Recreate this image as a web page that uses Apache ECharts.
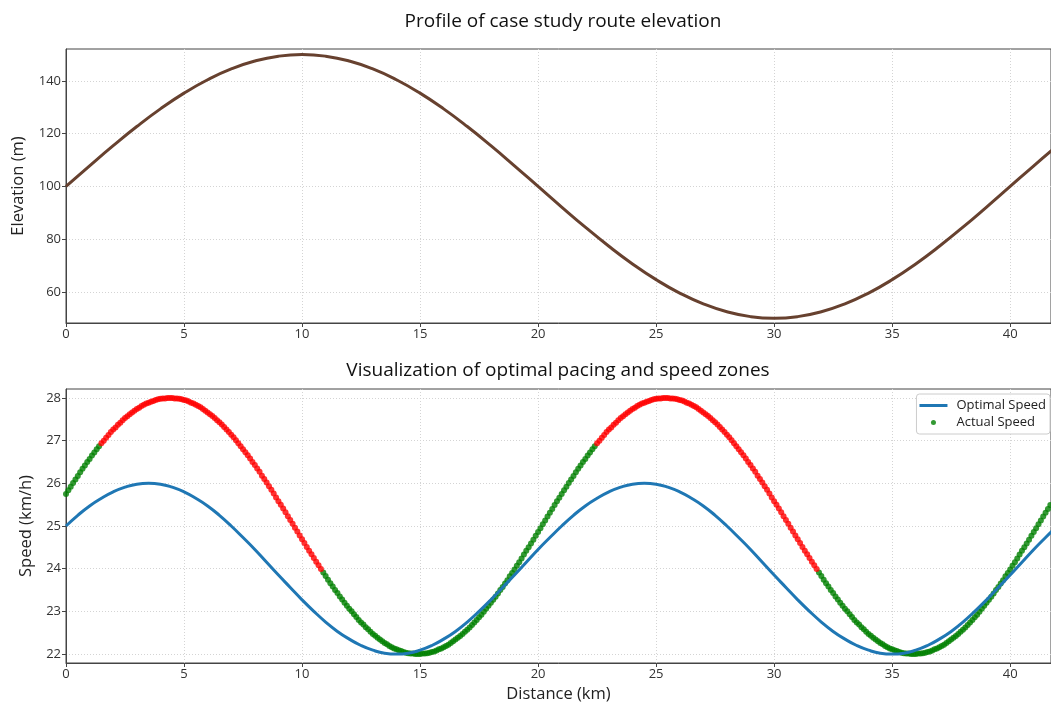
<!DOCTYPE html>
<html>
<head>
<meta charset="utf-8">
<title>Route elevation and pacing</title>
<script src="https://cdn.jsdelivr.net/npm/echarts@6/dist/echarts.min.js"></script>
<style>
  html, body { margin: 0; padding: 0; background: #fff; }
  #chart { width: 1051px; height: 704px; }
</style>
</head>
<body>
<div id="chart"></div>
<script>
// elevation profile, one reading per km
const elevationStepKm = 1
const elevationM = [100, 107.82, 115.45, 122.7, 129.39, 135.36, 140.45, 144.55, 147.55, 149.38,
  150, 149.38, 147.55, 144.55, 140.45, 135.36, 129.39, 122.7, 115.45, 107.82,
  100, 92.18, 84.55, 77.3, 70.61, 64.64, 59.55, 55.45, 52.45, 50.62,
  50, 50.62, 52.45, 55.45, 59.55, 64.64, 70.61, 77.3, 84.55, 92.18,
  100, 107.82, 115.45]

// optimal speed, one reading every 0.5 km
const optimalStepKm = 0.5
const optimalSpeed = [
  25.0, 25.25, 25.47, 25.65, 25.8, 25.91, 25.98, 26.0, 25.98, 25.91,
  25.8, 25.65, 25.47, 25.25, 25.0, 24.73, 24.45, 24.15, 23.85, 23.56,
  23.27, 23.0, 22.75, 22.53, 22.35, 22.2, 22.09, 22.02, 22.0, 22.02,
  22.09, 22.2, 22.35, 22.53, 22.75, 23.0, 23.27, 23.56, 23.85, 24.15,
  24.45, 24.73,
  25.0, 25.25, 25.47, 25.65, 25.8, 25.91, 25.98, 26.0, 25.98, 25.91,
  25.8, 25.65, 25.47, 25.25, 25.0, 24.73, 24.45, 24.15, 23.85, 23.56,
  23.27, 23.0, 22.75, 22.53, 22.35, 22.2, 22.09, 22.02, 22.0, 22.02,
  22.09, 22.2, 22.35, 22.53, 22.75, 23.0, 23.27, 23.56, 23.85, 24.15,
  24.45, 24.73,
  25.0]

// actual speed, one reading every 0.1 km starting at 0 km
const actualStepKm = 0.1
const actualSpeed = [
  25.75, 25.84, 25.92, 26.01, 26.09, 26.17, 26.26, 26.34, 26.42, 26.5,
  26.57, 26.65, 26.72, 26.8, 26.87, 26.94, 27.0, 27.07, 27.13, 27.2,
  27.26, 27.31, 27.37, 27.42, 27.48, 27.53, 27.57, 27.62, 27.66, 27.7,
  27.74, 27.77, 27.81, 27.84, 27.87, 27.89, 27.91, 27.93, 27.95, 27.97,
  27.98, 27.99, 27.99, 28.0, 28.0, 28.0, 27.99, 27.99, 27.98, 27.97,
  27.95, 27.94, 27.92, 27.89, 27.87, 27.84, 27.81, 27.78, 27.74, 27.7,
  27.66, 27.62, 27.58, 27.53, 27.48, 27.43, 27.38, 27.32, 27.26, 27.2,
  27.14, 27.08, 27.01, 26.94, 26.87, 26.8, 26.73, 26.66, 26.58, 26.5,
  26.43, 26.35, 26.27, 26.18, 26.1, 26.02, 25.93, 25.85, 25.76, 25.67,
  25.58, 25.5, 25.41, 25.32, 25.23, 25.14, 25.05, 24.96, 24.87, 24.78,
  24.69, 24.6, 24.51, 24.42, 24.34, 24.25, 24.16, 24.08, 23.99, 23.91,
  23.83, 23.74, 23.66, 23.58, 23.5, 23.43, 23.35, 23.28, 23.2, 23.13,
  23.06, 23.0, 22.93, 22.87, 22.8, 22.74, 22.69, 22.63, 22.58, 22.52,
  22.47, 22.43, 22.38, 22.34, 22.3, 22.26, 22.23, 22.19, 22.16, 22.13,
  22.11, 22.09, 22.07, 22.05, 22.03, 22.02, 22.01, 22.01, 22.0, 22.0,
  22.0, 22.01, 22.01, 22.02, 22.03, 22.05, 22.06, 22.08, 22.11, 22.13,
  22.16, 22.19, 22.22, 22.26, 22.3, 22.34, 22.38, 22.42, 22.47, 22.52,
  22.57, 22.62, 22.68, 22.74, 22.8, 22.86, 22.92, 22.99, 23.06, 23.13,
  23.2, 23.27, 23.34, 23.42, 23.5, 23.57, 23.65, 23.73, 23.82, 23.9,
  23.98, 24.07, 24.15, 24.24, 24.33, 24.42, 24.5, 24.59, 24.68, 24.77,
  24.86, 24.95, 25.04, 25.13, 25.22, 25.31, 25.4, 25.49, 25.58, 25.66,
  25.75, 25.84, 25.92, 26.01, 26.09, 26.17, 26.26, 26.34, 26.42, 26.5,
  26.57, 26.65, 26.72, 26.8, 26.87, 26.94, 27.0, 27.07, 27.13, 27.2,
  27.26, 27.31, 27.37, 27.42, 27.48, 27.53, 27.57, 27.62, 27.66, 27.7,
  27.74, 27.77, 27.81, 27.84, 27.87, 27.89, 27.91, 27.93, 27.95, 27.97,
  27.98, 27.99, 27.99, 28.0, 28.0, 28.0, 27.99, 27.99, 27.98, 27.97,
  27.95, 27.94, 27.92, 27.89, 27.87, 27.84, 27.81, 27.78, 27.74, 27.7,
  27.66, 27.62, 27.58, 27.53, 27.48, 27.43, 27.38, 27.32, 27.26, 27.2,
  27.14, 27.08, 27.01, 26.94, 26.87, 26.8, 26.73, 26.66, 26.58, 26.5,
  26.43, 26.35, 26.27, 26.18, 26.1, 26.02, 25.93, 25.85, 25.76, 25.67,
  25.58, 25.5, 25.41, 25.32, 25.23, 25.14, 25.05, 24.96, 24.87, 24.78,
  24.69, 24.6, 24.51, 24.42, 24.34, 24.25, 24.16, 24.08, 23.99, 23.91,
  23.83, 23.74, 23.66, 23.58, 23.5, 23.43, 23.35, 23.28, 23.2, 23.13,
  23.06, 23.0, 22.93, 22.87, 22.8, 22.74, 22.69, 22.63, 22.58, 22.52,
  22.47, 22.43, 22.38, 22.34, 22.3, 22.26, 22.23, 22.19, 22.16, 22.13,
  22.11, 22.09, 22.07, 22.05, 22.03, 22.02, 22.01, 22.01, 22.0, 22.0,
  22.0, 22.01, 22.01, 22.02, 22.03, 22.05, 22.06, 22.08, 22.11, 22.13,
  22.16, 22.19, 22.22, 22.26, 22.3, 22.34, 22.38, 22.42, 22.47, 22.52,
  22.57, 22.62, 22.68, 22.74, 22.8, 22.86, 22.92, 22.99, 23.06, 23.13,
  23.2, 23.27, 23.34, 23.42, 23.5, 23.57, 23.65, 23.73, 23.82, 23.9,
  23.98, 24.07, 24.15, 24.24, 24.33, 24.42, 24.5, 24.59, 24.68, 24.77,
  24.86, 24.95, 25.04, 25.13, 25.22, 25.31, 25.4, 25.49, 25.58, 25.66
]

// stretches (km) where the actual speed is too fast (drawn red)
const fastZones = [[1.45, 10.8], [22.45, 31.8]]

const distanceTicks = [0, 5, 10, 15, 20, 25, 30, 35, 40]
const elevationTicks = [60, 80, 100, 120, 140]
const speedTicks = [22, 23, 24, 25, 26, 27, 28]

const font = 'Open Sans'
const axisColor = '#444'

function km(i, step) {
  return Math.round(i * step * 100) / 100
}

const elevationData = elevationM.map((v, i) => [km(i, elevationStepKm), v])
const optimalData = optimalSpeed.map((v, i) => [km(i, optimalStepKm), v])
const greenPts = []
const redPts = []
actualSpeed.forEach((v, i) => {
  const d = km(i, actualStepKm)
  const fast = fastZones.some(z => d >= z[0] - 1e-6 && d <= z[1] + 1e-6)
  if (fast) {
    redPts.push([d, v])
  } else {
    greenPts.push([d, v])
  }
})

function makeAxis(ticks, extra) {
  return Object.assign({
    type: 'value',
    axisLine: { show: true, onZero: false, lineStyle: { color: axisColor, width: 1 } },
    axisTick: { show: true, length: 4, customValues: ticks, lineStyle: { color: axisColor } },
    axisLabel: { customValues: ticks, color: '#333', fontSize: 13, fontFamily: font, margin: 5 },
    splitLine: { show: true, lineStyle: { color: '#d4d4d4', type: [1, 2], width: 1 } },
    nameTextStyle: { color: '#222', fontSize: 16.5, fontFamily: font }
  }, extra)
}

const chart = echarts.init(document.getElementById('chart'))

chart.setOption({
  animation: false,
  backgroundColor: '#fff',
  title: [
    {
      text: 'Profile of case study route elevation',
      left: 558,
      top: 7,
      textAlign: 'center',
      textStyle: { fontSize: 19, fontWeight: 'normal', color: '#111', fontFamily: font }
    },
    {
      text: 'Visualization of optimal pacing and speed zones',
      left: 553,
      top: 356,
      textAlign: 'center',
      textStyle: { fontSize: 19, fontWeight: 'normal', color: '#111', fontFamily: font }
    }
  ],
  grid: [
    { left: 66, top: 49, width: 985, height: 274, show: true, borderColor: axisColor, borderWidth: 1 },
    { left: 66, top: 389, width: 985, height: 275, show: true, borderColor: axisColor, borderWidth: 1 }
  ],
  xAxis: [
    makeAxis(distanceTicks, { gridIndex: 0, min: 0, max: 41.73 }),
    makeAxis(distanceTicks, {
      gridIndex: 1, min: 0, max: 41.73,
      name: 'Distance (km)', nameLocation: 'middle', nameGap: 23
    })
  ],
  yAxis: [
    makeAxis(elevationTicks, {
      gridIndex: 0, min: 48.2, max: 152.1,
      name: 'Elevation (m)', nameLocation: 'middle', nameGap: 39
    }),
    makeAxis(speedTicks, {
      gridIndex: 1, min: 21.79, max: 28.21,
      name: 'Speed (km/h)', nameLocation: 'middle', nameGap: 30
    })
  ],
  legend: {
    data: [
      { name: 'Optimal Speed', icon: 'path://M0,1h28v3h-28z' },
      { name: 'Actual Speed', icon: 'circle', itemStyle: { color: '#008000' } }
    ],
    orient: 'vertical',
    right: 1,
    top: 394,
    itemWidth: 28,
    itemHeight: 5,
    itemGap: 4,
    padding: [5, 4, 5, 3],
    borderColor: '#cccccc',
    borderWidth: 1,
    borderRadius: 3,
    backgroundColor: 'rgba(255,255,255,0.85)',
    textStyle: { fontSize: 13, color: '#222', fontFamily: font, padding: [0, 0, 0, 4] }
  },
  series: [
    {
      name: 'Elevation',
      type: 'line',
      xAxisIndex: 0,
      yAxisIndex: 0,
      data: elevationData,
      smooth: true,
      showSymbol: false,
      lineStyle: { color: '#67412f', width: 3 }
    },
    {
      name: 'Optimal Speed',
      type: 'line',
      xAxisIndex: 1,
      yAxisIndex: 1,
      data: optimalData,
      smooth: true,
      showSymbol: false,
      itemStyle: { color: '#1f77b4' },
      lineStyle: { color: '#1f77b4', width: 3 }
    },
    {
      name: 'Actual Speed',
      type: 'scatter',
      xAxisIndex: 1,
      yAxisIndex: 1,
      data: greenPts,
      symbolSize: 6,
      itemStyle: { color: '#008000' }
    },
    {
      name: 'Actual Speed',
      type: 'scatter',
      xAxisIndex: 1,
      yAxisIndex: 1,
      data: redPts,
      symbolSize: 6,
      itemStyle: { color: '#ff0000' }
    }
  ]
})
</script>
</body>
</html>
